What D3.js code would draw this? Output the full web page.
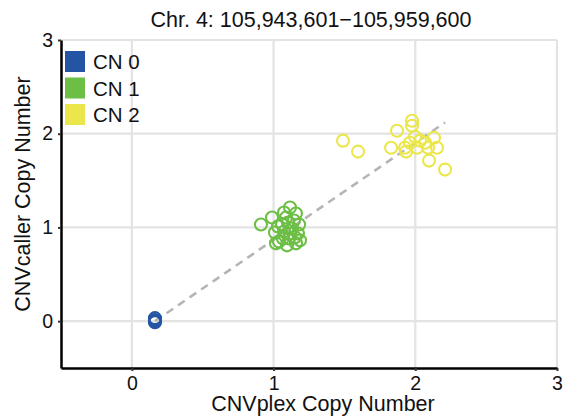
<!DOCTYPE html>
<html>
<head>
<meta charset="utf-8">
<script src="https://d3js.org/d3.v7.min.js"></script>
<style>
  body { margin: 0; background: #fff; }
  text { font-family: "Liberation Sans", Arial, sans-serif; }
</style>
</head>
<body>
<script>
// CNVplex vs CNVcaller copy numbers
var cn0X = [0.163, 0.163, 0.163, 0.163];
var cn0Y = [0.032, 0.011, -0.011, 0.0];

var cn1X = [0.911, 0.989, 1.017, 1.038, 1.074, 1.116, 1.158, 1.180, 1.172, 1.158, 1.095, 1.109,
            1.074, 1.130, 1.102, 1.060, 1.144, 1.088, 1.031, 1.116, 1.066, 1.151, 1.187, 1.010];
var cn1Y = [1.032, 1.106, 0.830, 0.851, 1.160, 1.213, 1.149, 1.032, 0.936, 0.830, 0.809, 0.883,
            0.957, 0.989, 1.053, 1.032, 1.074, 1.106, 1.011, 0.936, 0.883, 0.894, 0.862, 0.947];

var cn2X = [1.490, 1.596, 1.871, 1.977, 1.977, 1.829, 1.928, 1.935, 1.963, 1.998, 2.012, 2.034,
            2.069, 2.090, 2.132, 2.153, 2.097, 2.210];
var cn2Y = [1.926, 1.809, 2.032, 2.138, 2.085, 1.851, 1.851, 1.809, 1.904, 1.968, 1.851, 1.926,
            1.904, 1.851, 1.957, 1.851, 1.713, 1.617];

var fitX = [0.163, 2.21];
var fitY = [0.0, 2.12];

var groups = ["CN 0", "CN 1", "CN 2"];
var colors = ["#2455a5", "#6cbe45", "#ebe74b"];
var ticks = [0, 1, 2, 3];

var width = 563, height = 418;
var mLeft = 61, mRight = 557, mTop = 40, mBottom = 368;

var svg = d3.select("body").append("svg")
            .attr("width", width)
            .attr("height", height);

var x = d3.scaleLinear().domain([-0.5, 3]).range([mLeft, mRight]);
var y = d3.scaleLinear().domain([-0.5, 3]).range([mBottom, mTop]);

// grid
svg.selectAll(".gx").data(ticks).enter().append("line")
   .attr("x1", d => x(d)).attr("x2", d => x(d))
   .attr("y1", mTop).attr("y2", mBottom)
   .style("stroke", "#e3e3e3").style("stroke-width", 2.2);
svg.selectAll(".gy").data(ticks).enter().append("line")
   .attr("y1", d => y(d)).attr("y2", d => y(d))
   .attr("x1", mLeft).attr("x2", mRight)
   .style("stroke", "#e3e3e3").style("stroke-width", 2.2);

// fit line
svg.append("line")
   .attr("x1", x(fitX[0])).attr("y1", y(fitY[0]))
   .attr("x2", x(fitX[1])).attr("y2", y(fitY[1]))
   .style("stroke", "#b5b5b5").style("stroke-width", 2.6)
   .style("stroke-dasharray", "8,6");

// points
var series = [[cn0X, cn0Y], [cn1X, cn1Y], [cn2X, cn2Y]];
series.forEach(function(s, i) {
    var pts = s[0].map((v, j) => [v, s[1][j]]);
    svg.append("g").selectAll("circle").data(pts).enter().append("circle")
       .attr("cx", d => x(d[0]))
       .attr("cy", d => y(d[1]))
       .attr("r", 6)
       .style("fill", "none")
       .style("stroke", colors[i])
       .style("stroke-width", 2.1);
});

// axes
var xAxis = svg.append("g").attr("transform", "translate(0," + mBottom + ")")
               .call(d3.axisBottom(x).tickValues(ticks).tickSize(3).tickSizeOuter(0)
                       .tickPadding(5).tickFormat(d3.format("d")));
var yAxis = svg.append("g").attr("transform", "translate(" + mLeft + ",0)")
               .call(d3.axisLeft(y).tickValues(ticks).tickSize(3).tickSizeOuter(0)
                       .tickPadding(5).tickFormat(d3.format("d")));
[xAxis, yAxis].forEach(function(a) {
    a.select(".domain").style("stroke", "#000").style("stroke-width", 2.5);
    a.selectAll(".tick line").style("stroke", "#333").style("stroke-width", 2);
    a.selectAll(".tick text").style("font-size", "19.5px").style("fill", "#111")
     .style("font-family", "'Liberation Sans', Arial, sans-serif");
});

// title and labels
svg.append("text").attr("x", 311).attr("y", 27)
   .attr("text-anchor", "middle").style("font-size", "21.5px").style("fill", "#111")
   .text("Chr. 4: 105,943,601\u2212105,959,600");
svg.append("text").attr("x", 323).attr("y", 411)
   .attr("text-anchor", "middle").style("font-size", "21.5px").style("fill", "#111")
   .text("CNVplex Copy Number");
svg.append("text").attr("transform", "translate(30,194) rotate(-90)")
   .attr("text-anchor", "middle").style("font-size", "21.5px").style("fill", "#111")
   .text("CNVcaller Copy Number");

// legend
var legend = svg.append("g").attr("transform", "translate(65,51)");
groups.forEach(function(g, i) {
    legend.append("rect").attr("x", 0).attr("y", i * 26.5)
          .attr("width", 20).attr("height", 21).style("fill", colors[i]);
    legend.append("text").attr("x", 28).attr("y", i * 26.5 + 18)
          .style("font-size", "20.5px").style("fill", "#111").text(g);
});
</script>
</body>
</html>
